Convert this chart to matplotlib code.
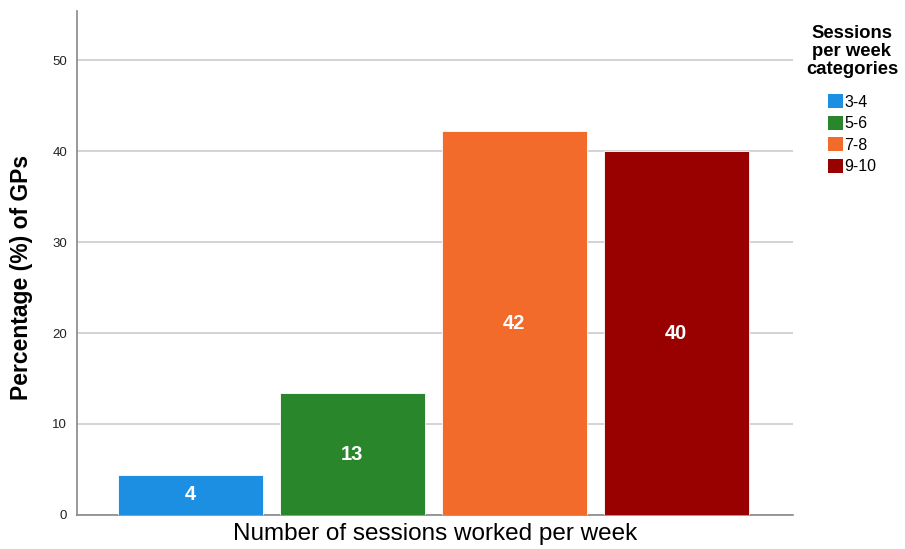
import matplotlib
matplotlib.use("Agg")
import matplotlib.pyplot as plt
from matplotlib.patches import Patch

plt.rcParams['font.family'] = ['Liberation Sans', 'DejaVu Sans']

categories = ["3-4", "5-6", "7-8", "9-10"]
percentages = [4.4, 13.4, 42.2, 40.0]
colors = ["#1c8fe3", "#2a862a", "#f26b2b", "#990000"]
yticks = [0, 10, 20, 30, 40, 50]

fig = plt.figure(figsize=(9.05, 5.49), dpi=100)
ax = fig.add_axes([0.085, 0.062, 0.791, 0.918])

x = list(range(len(categories)))
bars = ax.bar(x, percentages, width=0.895, color=colors, edgecolor="white",
              linewidth=0.6, zorder=3)
for rect, val in zip(bars, percentages):
    ax.text(rect.get_x() + rect.get_width() / 2, val / 2, f"{val:.0f}",
            ha="center", va="center", color="white", fontsize=14.5,
            fontweight="bold", zorder=4)

ax.set_xlim(-0.70, 3.72)
ax.set_ylim(0, 55.4)
ax.set_yticks(yticks)
ax.set_xticks([])
ax.yaxis.grid(True, color="#cccccc", linewidth=1.2, zorder=0)
ax.tick_params(axis="y", length=0, labelsize=9.5, colors="#222222", pad=7)
for side in ("top", "right"):
    ax.spines[side].set_visible(False)
for side in ("left", "bottom"):
    ax.spines[side].set_color("#888888")
    ax.spines[side].set_linewidth(1.2)

ax.set_ylabel("Percentage (%) of GPs", fontsize=16.5, fontweight="bold")
ax.yaxis.set_label_coords(-0.062, 0.472)
ax.set_xlabel("Number of sessions worked per week", fontsize=17.5, labelpad=6)

handles = [Patch(facecolor=c, edgecolor="none") for c in colors]
leg = fig.legend(handles, categories, loc="upper left",
                 bbox_to_anchor=(0.878, 0.974), frameon=False,
                 title="Sessions\nper week\ncategories",
                 title_fontproperties={"weight": "bold", "size": 13.3},
                 fontsize=11.5, handlelength=0.95, handleheight=0.95,
                 handletextpad=0.1, labelspacing=0.38, borderpad=0.2)
leg._legend_box.align = "center"
leg._legend_box.sep = 12
leg.get_title().set_multialignment("center")
leg.get_title().set_linespacing(1.05)

fig.savefig("out.png", dpi=100)
